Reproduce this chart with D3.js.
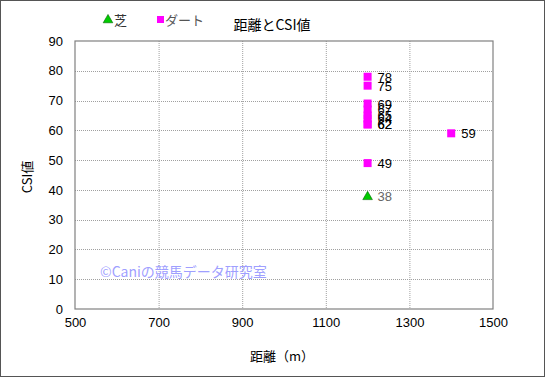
<!DOCTYPE html>
<html><head><meta charset="utf-8">
<script src="https://cdn.jsdelivr.net/npm/d3@7"></script>
<style>body{margin:0;background:#fff;}svg{display:block;font-family:"Noto Sans CJK JP","Liberation Sans",sans-serif;}</style>
</head><body>
<script>
const turfDist = [1200];
const turfCSI = [38];
const dirtDist = [1200,1200,1200,1200,1200,1200,1200,1200,1400,1200];
const dirtCSI = [78,75,69,67,65,64,62,62,59,49];
const xTicks = [500,700,900,1100,1300,1500];
const yTicks = [0,10,20,30,40,50,60,70,80,90];

const W=545,H=377;
const svg=d3.select("body").append("svg").attr("width",W).attr("height",H);
svg.append("rect").attr("x",0.5).attr("y",0.5).attr("width",W-1).attr("height",H-1).attr("fill","#fff").attr("stroke","#555");
const L=75,R=493,T=41,B=309;
const x=d3.scaleLinear().domain([500,1500]).range([L,R]);
const y=d3.scaleLinear().domain([0,90]).range([B,T]);
const numFont='"Liberation Sans",Arial,sans-serif';

// grid
svg.append("g").selectAll("line").data(xTicks.slice(1,-1)).join("line")
 .attr("x1",d=>x(d)+0.5).attr("x2",d=>x(d)+0.5).attr("y1",T).attr("y2",B)
 .attr("stroke","#a0a0a0").attr("stroke-dasharray","1,1");
svg.append("g").selectAll("line").data(yTicks.slice(1,-1)).join("line")
 .attr("y1",d=>Math.round(y(d))+0.5).attr("y2",d=>Math.round(y(d))+0.5).attr("x1",L).attr("x2",R)
 .attr("stroke","#a0a0a0").attr("stroke-dasharray","1,1");
svg.append("rect").attr("x",L).attr("y",T).attr("width",R-L).attr("height",B-T)
 .attr("fill","none").attr("stroke","#808080").attr("stroke-width",1.2);

// axes
const xa=svg.append("g").attr("transform",`translate(0,${B})`).call(d3.axisBottom(x).tickValues(xTicks).tickSize(0).tickPadding(9).tickFormat(d3.format("d")));
xa.select(".domain").remove();
xa.selectAll("text").attr("font-size",13).attr("font-family",numFont).attr("fill","#000");
const ya=svg.append("g").attr("transform",`translate(${L},0)`).call(d3.axisLeft(y).tickValues(yTicks).tickSize(0).tickPadding(12));
ya.select(".domain").remove();
ya.selectAll("text").attr("font-size",13).attr("font-family",numFont).attr("fill","#000");

// labels
svg.append("text").attr("x",272).attr("y",30).attr("text-anchor","middle").attr("font-size",14).text("距離とCSI値");
svg.append("text").attr("x",282).attr("y",361).attr("text-anchor","middle").attr("font-size",13).text("距離（m）");
svg.append("text").attr("transform",`translate(32,177) rotate(-90)`).attr("text-anchor","middle").attr("font-size",13).text("CSI値");
svg.append("text").attr("x",100).attr("y",277).attr("font-size",14).attr("fill","#9f9fff").text("©Caniの競馬データ研究室");

// legend
const tri=d3.symbol().type(d3.symbolTriangle).size(40);
svg.append("path").attr("d",tri()).attr("transform","translate(108,20)").attr("fill","#00cc00").attr("stroke","#006600").attr("stroke-width",0.6);
svg.append("text").attr("x",114).attr("y",25).attr("font-size",13).attr("fill","#333").text("芝");
svg.append("rect").attr("x",157).attr("y",16).attr("width",7).attr("height",7).attr("fill","#ff00ff");
svg.append("text").attr("x",165).attr("y",25).attr("font-size",13).attr("fill","#555").text("ダート");

// dirt points
const dirt=dirtDist.map((d,i)=>({d,v:dirtCSI[i]}));
svg.append("g").selectAll("rect").data(dirt).join("rect")
 .attr("x",d=>x(d.d)-4).attr("y",d=>y(d.v)-4).attr("width",8).attr("height",8).attr("fill","#ff00ff");
svg.append("g").selectAll("text").data(dirt).join("text")
 .attr("x",d=>x(d.d)+10).attr("y",d=>y(d.v)+5).attr("font-size",13).attr("font-family",numFont).attr("fill","#000").text(d=>d.v);
// turf
const turf=turfDist.map((d,i)=>({d,v:turfCSI[i]}));
svg.append("g").selectAll("path").data(turf).join("path")
 .attr("d",tri()).attr("transform",d=>`translate(${x(d.d)},${y(d.v)+1})`)
 .attr("fill","#00cc00").attr("stroke","#006600").attr("stroke-width",0.6);
svg.append("g").selectAll("text").data(turf).join("text")
 .attr("x",d=>x(d.d)+10).attr("y",d=>y(d.v)+5).attr("font-size",13).attr("font-family",numFont).attr("fill","#666").text(d=>d.v);
</script>
</body></html>
